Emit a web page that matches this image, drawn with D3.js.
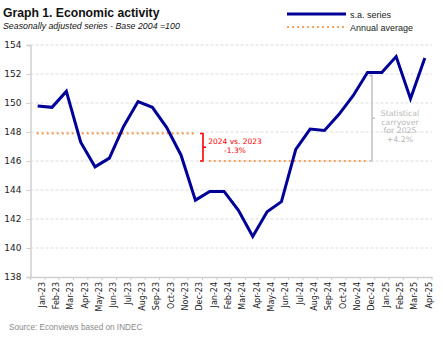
<!DOCTYPE html>
<html>
<head>
<meta charset="utf-8">
<script src="https://cdn.jsdelivr.net/npm/d3@7"></script>
<style>
  body { margin: 0; background: #fff; }
  svg { display: block; font-family: "Liberation Sans", Arial, sans-serif; }
</style>
</head>
<body>
<div id="chart"></div>
<script>
var
  months = ["Jan-23","Feb-23","Mar-23","Apr-23","May-23","Jun-23","Jul-23","Aug-23","Sep-23","Oct-23","Nov-23","Dec-23",
            "Jan-24","Feb-24","Mar-24","Apr-24","May-24","Jun-24","Jul-24","Aug-24","Sep-24","Oct-24","Nov-24","Dec-24",
            "Jan-25","Feb-25","Mar-25","Apr-25"],
  saSeries = [149.8,149.7,150.8,147.3,145.6,146.2,148.4,150.1,149.7,148.3,146.4,143.3,
              143.9,143.9,142.6,140.8,142.5,143.2,146.8,148.2,148.1,149.2,150.5,152.1,
              152.1,153.2,150.3,153.1],
  avg2023 = 147.9,
  avg2024 = 146.0,
  yTicks = [138,140,142,144,146,148,150,152,154];

var
  WIDTH = 443,
  HEIGHT = 340,
  LEFT = 30.5,
  RIGHT = 432,
  TOP = 45,
  BOTTOM = 277,
  BLUE = "#000099",
  ORANGE = "#f79646",
  RED = "#ff0000",
  GREY_NOTE = "#b8b8b8",
  AXIS_COLOR = "#cfcfcf";

var svg = d3.select("#chart").append("svg")
  .attr("width", WIDTH)
  .attr("height", HEIGHT);

var x = d3.scaleBand().domain(months).range([LEFT, RIGHT]);
var y = d3.scaleLinear().domain([138, 154]).range([BOTTOM, TOP]);

function cx(m){ return x(m) + x.bandwidth() / 2; }
function pct(v){ return d3.format(".1f")(v).replace("\u2212", "-") + "%"; }

// grid lines
svg.append("g").selectAll("line")
  .data(yTicks.slice(1))
  .enter().append("line")
  .attr("x1", LEFT).attr("x2", RIGHT)
  .attr("y1", function(d){ return y(d); })
  .attr("y2", function(d){ return y(d); })
  .attr("stroke", "#dcdcdc")
  .attr("stroke-width", 1)
  .attr("stroke-dasharray", "3,2");

// y axis
var yAxis = svg.append("g")
  .attr("transform", "translate(" + LEFT + ",0)")
  .call(d3.axisLeft(y).tickValues(yTicks).tickSize(4).tickPadding(5));
yAxis.select(".domain").attr("stroke", AXIS_COLOR).attr("stroke-width", 1.5);
yAxis.selectAll(".tick line").attr("stroke", AXIS_COLOR);
yAxis.selectAll("text")
  .attr("font-family", "DejaVu Sans, sans-serif")
  .attr("font-size", 9)
  .attr("fill", "#222");

// x axis: ticks between months
var xAxis = svg.append("g")
  .attr("transform", "translate(0," + BOTTOM + ")")
  .call(d3.axisBottom(x).tickSize(0).tickPadding(4));
xAxis.select(".domain").attr("stroke", AXIS_COLOR).attr("stroke-width", 1.5);
xAxis.selectAll("text")
  .attr("font-family", "DejaVu Sans, sans-serif")
  .attr("font-size", 8)
  .attr("fill", "#222")
  .attr("text-anchor", "end")
  .attr("dx", 0)
  .attr("dy", 0)
  .attr("transform", "translate(3,5) rotate(-90)");
svg.append("g").selectAll("line")
  .data(months.concat(["end"]))
  .enter().append("line")
  .attr("x1", function(d, i){ return LEFT + i * x.step(); })
  .attr("x2", function(d, i){ return LEFT + i * x.step(); })
  .attr("y1", BOTTOM).attr("y2", BOTTOM + 3)
  .attr("stroke", AXIS_COLOR);

// annual averages
function avgLine(first, last, value){
  svg.append("line")
    .attr("x1", cx(first)).attr("x2", cx(last))
    .attr("y1", y(value)).attr("y2", y(value))
    .attr("stroke", ORANGE)
    .attr("stroke-width", 2.2)
    .attr("stroke-linecap", "round")
    .attr("stroke-dasharray", "0.1,4.9");
}
avgLine("Jan-23", "Dec-23", avg2023);
avgLine("Jan-24", "Dec-24", avg2024);

// main series
var line = d3.line()
  .x(function(d, i){ return cx(months[i]); })
  .y(function(d){ return y(d); });
svg.append("path")
  .datum(saSeries)
  .attr("d", line)
  .attr("fill", "none")
  .attr("stroke", BLUE)
  .attr("stroke-width", 3)
  .attr("stroke-linejoin", "miter");

// brackets
function bracket(xPos, top, bottom, color, width){
  var mid = (top + bottom) / 2;
  svg.append("path")
    .attr("d", "M" + (xPos - 3) + "," + top + "H" + xPos + "V" + bottom + "H" + (xPos - 3) +
               "M" + xPos + "," + mid + "H" + (xPos + 3))
    .attr("fill", "none")
    .attr("stroke", color)
    .attr("stroke-width", width);
}

var yoy = (avg2024 / avg2023 - 1) * 100;
bracket(203, y(avg2023), y(avg2024), RED, 1.6);
var redNote = svg.append("text")
  .attr("font-family", "DejaVu Sans, sans-serif")
  .attr("font-size", 7.5)
  .attr("fill", RED)
  .attr("text-anchor", "middle");
redNote.append("tspan").attr("x", 235).attr("y", 144).text("2024 vs. 2023");
redNote.append("tspan").attr("x", 235).attr("y", 153).text(pct(yoy));

var dec24 = saSeries[months.indexOf("Dec-24")];
var carryover = (dec24 / avg2024 - 1) * 100;
bracket(372, y(dec24) + 3, y(avg2024), "#c4c4c4", 1.6);
var greyNote = svg.append("text")
  .attr("font-family", "DejaVu Sans, sans-serif")
  .attr("font-size", 7.8)
  .attr("fill", GREY_NOTE)
  .attr("text-anchor", "middle");
["Statistical", "carryover", "for 2025", "+" + pct(carryover)].forEach(function(t, i){
  greyNote.append("tspan").attr("x", 400).attr("y", 116 + i * 8.5).text(t);
});

// title block
svg.append("text")
  .attr("x", 3).attr("y", 17)
  .attr("font-size", 12.2)
  .attr("font-weight", "bold")
  .attr("fill", "#111")
  .text("Graph 1. Economic activity");
svg.append("text")
  .attr("x", 3).attr("y", 29)
  .attr("font-size", 8.8)
  .attr("font-style", "italic")
  .attr("fill", "#111")
  .text("Seasonally adjusted series - Base 2004 =100");

// legend
svg.append("line")
  .attr("x1", 287).attr("x2", 346).attr("y1", 14).attr("y2", 14)
  .attr("stroke", BLUE).attr("stroke-width", 3);
svg.append("line")
  .attr("x1", 288).attr("x2", 345).attr("y1", 27).attr("y2", 27)
  .attr("stroke", ORANGE).attr("stroke-width", 2.2)
  .attr("stroke-linecap", "round").attr("stroke-dasharray", "0.1,4.9");
svg.append("text")
  .attr("x", 350).attr("y", 17.5)
  .attr("font-size", 9).attr("fill", "#222")
  .text("s.a. series");
svg.append("text")
  .attr("x", 350).attr("y", 30.5)
  .attr("font-size", 9).attr("fill", "#222")
  .text("Annual average");

// source
svg.append("text")
  .attr("x", 9).attr("y", 330)
  .attr("font-size", 8.2).attr("fill", "#8a8a8a")
  .text("Source: Econviews based on INDEC");
</script>
</body>
</html>
